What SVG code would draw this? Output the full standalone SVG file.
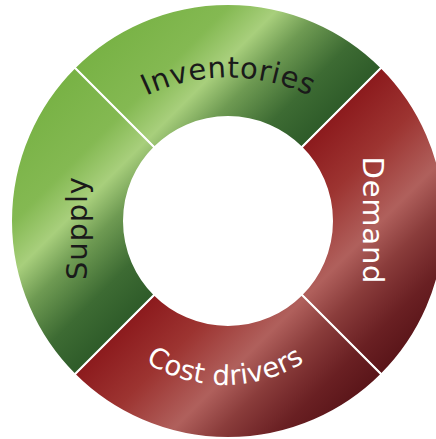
<svg xmlns="http://www.w3.org/2000/svg" width="436" height="439" viewBox="0 0 436 439">
  <defs>
    <linearGradient id="gGreen" gradientUnits="userSpaceOnUse" x1="71.75" y1="71.75" x2="224.5" y2="224.5">
      <stop offset="0" stop-color="#78b245"/>
      <stop offset="0.3" stop-color="#84b952"/>
      <stop offset="0.47" stop-color="#a8cf7c"/>
      <stop offset="0.62" stop-color="#6e9a52"/>
      <stop offset="0.82" stop-color="#3d6b33"/>
      <stop offset="1" stop-color="#2e5b29"/>
    </linearGradient>
    <linearGradient id="gRed" gradientUnits="userSpaceOnUse" x1="224.5" y1="224.5" x2="377.5" y2="377.5">
      <stop offset="0" stop-color="#8c1a1d"/>
      <stop offset="0.25" stop-color="#9d3431"/>
      <stop offset="0.5" stop-color="#b0605c"/>
      <stop offset="0.66" stop-color="#8a3c3b"/>
      <stop offset="0.85" stop-color="#6a2023"/>
      <stop offset="1" stop-color="#5a1519"/>
    </linearGradient>
    <path id="arcInv" d="M104.9,122.3 A191.5,191.5 0 0 1 351.1,122.3"/>
    <path id="arcCost" d="M110.9,331.8 A149,149 0 0 0 339.1,331.8"/>
    <style>
      .seg { stroke: #ffffff; stroke-width: 2; }
      .lbl { font-family: "DejaVu Sans", Verdana, "Liberation Sans", sans-serif; font-size: 29px; }
      .small { font-size: 27.5px; }
      .dark { fill: #1a1a1a; }
      .light { fill: #ffffff; }
    </style>
  </defs>

  <g id="inventories">
    <path class="seg" fill="url(#gGreen)" d="M74.56,67.56 A217,217 0 0 1 381.44,67.56 L301.54,147.46 A104,104 0 0 0 154.46,147.46 Z"/>
    <text class="lbl dark"><textPath href="#arcInv" startOffset="50%" text-anchor="middle" textLength="169" lengthAdjust="spacing">Inventories</textPath></text>
  </g>

  <g id="demand">
    <path class="seg" fill="url(#gRed)" d="M381.44,67.56 A217,217 0 0 1 381.44,374.44 L301.54,294.54 A104,104 0 0 0 301.54,147.46 Z"/>
    <text class="lbl light" transform="translate(363,220) rotate(90)" text-anchor="middle" textLength="127" lengthAdjust="spacing">Demand</text>
  </g>

  <g id="cost-drivers">
    <path class="seg" fill="url(#gRed)" d="M381.44,374.44 A217,217 0 0 1 74.56,374.44 L154.46,294.54 A104,104 0 0 0 301.54,294.54 Z"/>
    <text class="lbl small light"><textPath href="#arcCost" startOffset="50%" text-anchor="middle" textLength="168" lengthAdjust="spacing">Cost drivers</textPath></text>
  </g>

  <g id="supply">
    <path class="seg" fill="url(#gGreen)" d="M74.56,374.44 A217,217 0 0 1 74.56,67.56 L154.46,147.46 A104,104 0 0 0 154.46,294.54 Z"/>
    <text class="lbl dark" transform="translate(87,228.5) rotate(-90)" text-anchor="middle" textLength="103" lengthAdjust="spacing">Supply</text>
  </g>
</svg>
